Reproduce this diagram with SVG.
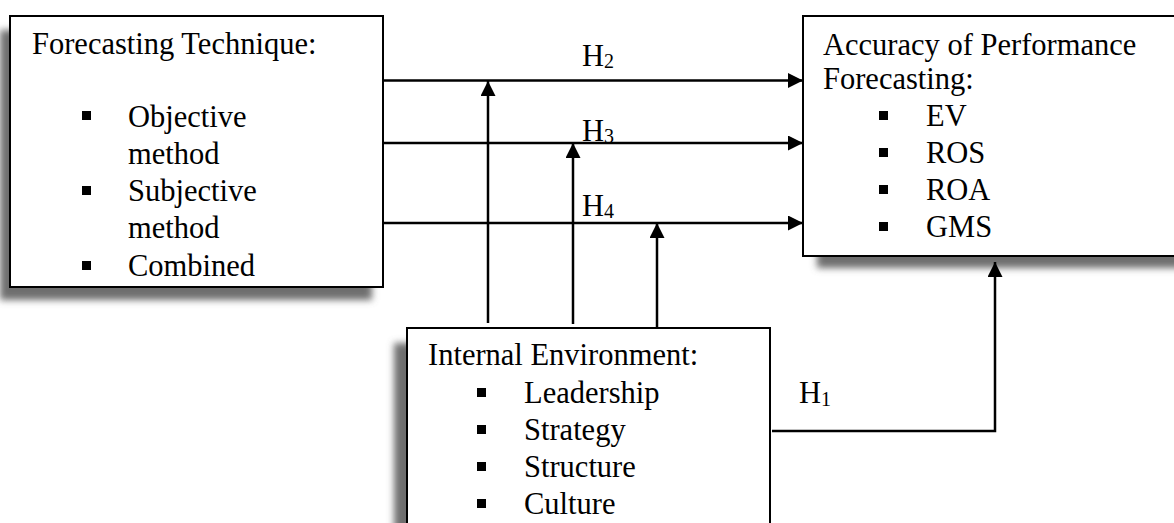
<svg xmlns="http://www.w3.org/2000/svg" width="1174" height="523" viewBox="0 0 1174 523">
<style>
text{font-family:"Liberation Serif","Times New Roman",serif;font-size:30.5px;fill:#000}
.box{fill:#fff;stroke:#000;stroke-width:2}
.shadow{fill:#6e6e6e}
.line{fill:none;stroke:#000;stroke-width:2.5}
.sub{font-size:20px}
</style>
<defs>
<filter id="blur" x="-10%" y="-10%" width="120%" height="120%"><feGaussianBlur stdDeviation="3.5"/></filter>
<marker id="arr" markerUnits="userSpaceOnUse" markerWidth="16" markerHeight="16" refX="15" refY="7.5" orient="auto"><path d="M0,0 L15,7.5 L0,15 z" fill="#000"/></marker>
</defs>
<rect width="1174" height="523" fill="#fff"/>
<g id="shadows" filter="url(#blur)">
<rect class="shadow" x="0" y="30" width="372" height="270"/>
<rect class="shadow" x="817" y="30" width="400" height="238"/>
<rect class="shadow" x="394" y="343" width="360" height="200"/>
</g>
<g id="node-forecasting">
<rect class="box" x="10" y="16" width="373" height="271"/>
<text x="32" y="54">Forecasting Technique:</text>
<rect x="82" y="111" width="9" height="9"/>
<text x="128" y="127">Objective</text>
<text x="128" y="164">method</text>
<rect x="82" y="186" width="9" height="9"/>
<text x="128" y="201">Subjective</text>
<text x="128" y="238">method</text>
<rect x="82" y="261" width="9" height="9"/>
<text x="128" y="276">Combined</text>
</g>
<g id="node-accuracy">
<rect class="box" x="803" y="16" width="380" height="240"/>
<text x="823" y="55">Accuracy of Performance</text>
<text x="823" y="89">Forecasting:</text>
<rect x="879" y="111" width="9" height="9"/>
<text x="926" y="126">EV</text>
<rect x="879" y="148" width="9" height="9"/>
<text x="926" y="163">ROS</text>
<rect x="879" y="185" width="9" height="9"/>
<text x="926" y="200">ROA</text>
<rect x="879" y="222" width="9" height="9"/>
<text x="926" y="237">GMS</text>
</g>
<g id="node-internal">
<rect class="box" x="407" y="328" width="363" height="210"/>
<text x="428" y="365">Internal Environment:</text>
<rect x="477" y="388" width="9" height="9"/>
<text x="524" y="403">Leadership</text>
<rect x="477" y="425" width="9" height="9"/>
<text x="524" y="440">Strategy</text>
<rect x="477" y="462" width="9" height="9"/>
<text x="524" y="477">Structure</text>
<rect x="477" y="499" width="9" height="9"/>
<text x="524" y="514">Culture</text>
</g>
<g id="connectors">
<line class="line" x1="383" y1="80.5" x2="803" y2="80.5" marker-end="url(#arr)"/>
<line class="line" x1="383" y1="143" x2="803" y2="143" marker-end="url(#arr)"/>
<line class="line" x1="383" y1="223" x2="803" y2="223" marker-end="url(#arr)"/>
<line class="line" x1="488" y1="323" x2="488" y2="81" marker-end="url(#arr)"/>
<line class="line" x1="573" y1="324" x2="573" y2="143" marker-end="url(#arr)"/>
<line class="line" x1="657" y1="327" x2="657" y2="223" marker-end="url(#arr)"/>
<polyline class="line" points="772,431 995,431 995,262" marker-end="url(#arr)"/>
<text x="582" y="66">H<tspan class="sub" dy="2">2</tspan></text>
<text x="582" y="141">H<tspan class="sub" dy="2">3</tspan></text>
<text x="582" y="216">H<tspan class="sub" dy="2">4</tspan></text>
<text x="799" y="403">H<tspan class="sub" dy="3">1</tspan></text>
</g>
</svg>
